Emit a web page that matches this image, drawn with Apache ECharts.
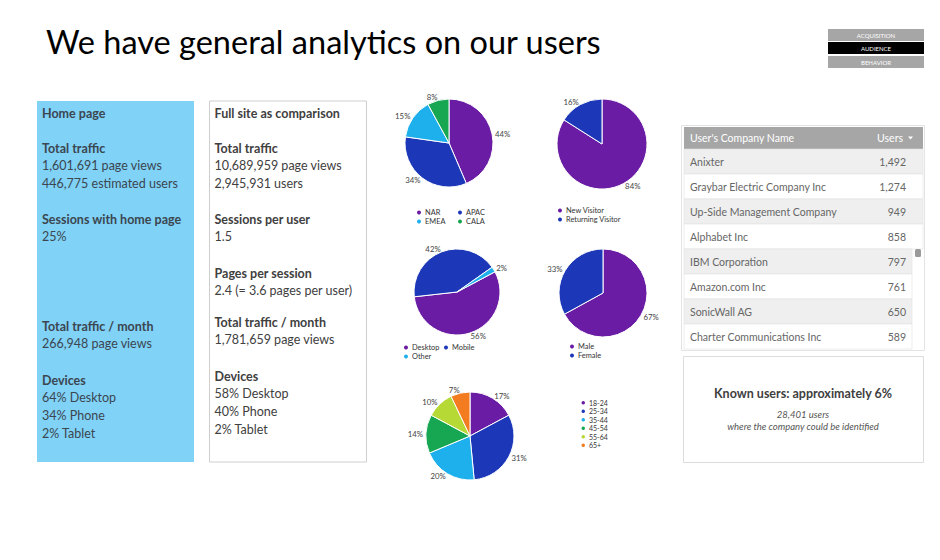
<!DOCTYPE html>
<html><head><meta charset="utf-8">
<script src="https://cdn.jsdelivr.net/npm/echarts@6/dist/echarts.min.js"></script>
<style>html,body{margin:0;padding:0;background:#fff}#c{width:940px;height:560px}</style>
</head><body><div id="c"></div>
<script>
// ---------- data ----------
const slideTitle = 'We have general analytics on our users';
const navItems = ['ACQUISITION', 'AUDIENCE', 'BEHAVIOR'];
const navActive = 'AUDIENCE';

const homeGroups = [
  ['Home page'],
  ['Total traffic', '1,601,691 page views', '446,775 estimated users'],
  ['Sessions with home page', '25%'],
  ['Total traffic / month', '266,948 page views'],
  ['Devices', '64% Desktop', '34% Phone', '2% Tablet']
];
const siteGroups = [
  ['Full site as comparison'],
  ['Total traffic', '10,689,959 page views', '2,945,931 users'],
  ['Sessions per user', '1.5'],
  ['Pages per session', '2.4 (= 3.6 pages per user)'],
  ['Total traffic / month', '1,781,659 page views'],
  ['Devices', '58% Desktop', '40% Phone', '2% Tablet']
];

const regionNames = ['NAR', 'APAC', 'EMEA', 'CALA'];
const regionValues = [44, 34, 15, 8];
const visitorNames = ['New Visitor', 'Returning Visitor'];
const visitorValues = [84, 16];
const deviceNames = ['Desktop', 'Mobile', 'Other'];
const deviceValues = [56, 42, 2];
const genderNames = ['Male', 'Female'];
const genderValues = [67, 33];
const ageNames = ['18-24', '25-34', '35-44', '45-54', '55-64', '65+'];
const ageValues = [17, 31, 20, 14, 10, 7];

const tableHeader = ["User's Company Name", 'Users'];
const companies = ['Anixter', 'Graybar Electric Company Inc', 'Up-Side Management Company', 'Alphabet Inc',
  'IBM Corporation', 'Amazon.com Inc', 'SonicWall AG', 'Charter Communications Inc'];
const companyUsers = [1492, 1274, 949, 858, 797, 761, 650, 589];

const knownTitle = 'Known users: approximately 6%';
const knownLines = ['28,401 users', 'where the company could be identified'];

// ---------- styles / layout ----------
const FONT = 'Lato, "Open Sans", sans-serif';
const PURPLE = '#6a1ca4', BLUE = '#1c38b8', LBLUE = '#1eb0ec', GREEN = '#17a652', LIME = '#b7d935', ORANGE = '#f47c20';
const fmtNum = v => v.toLocaleString('en-US');

const graphics = [];
// title
graphics.push({ type: 'text', left: 46, top: 25, style: { text: slideTitle, font: '32.5px ' + FONT, fill: '#000' } });
// nav buttons
const navY = [29, 42, 56];
navItems.forEach((n, i) => {
  graphics.push({ type: 'rect', shape: { x: 828, y: navY[i], width: 96, height: 12 },
    style: { fill: n === navActive ? '#000' : '#a6a6a6' } });
  graphics.push({ type: 'text', x: 876, y: navY[i] + 6, style: { text: n, font: '6px ' + FONT, fill: '#fff', align: 'center', verticalAlign: 'middle' } });
});
// panels
function panel(x, groups, groupY, fill, stroke, color) {
  graphics.push({ type: 'rect', shape: { x: x, y: 101, width: 157, height: 361 }, style: { fill: fill, stroke: stroke, lineWidth: 1 } });
  groups.forEach((g, gi) => {
    g.forEach((line, li) => {
      graphics.push({ type: 'text', x: x + 5, y: groupY[gi] + li * 17.8,
        style: { text: line, font: (li === 0 ? 'bold ' : '') + '12.5px ' + FONT, fill: color, verticalAlign: 'middle' } });
    });
  });
}
panel(37, homeGroups, [113, 148, 219, 326, 380], '#80d2f7', null, '#3b4650');
panel(209.5, siteGroups, [113, 148, 219, 273, 322, 376], '#fff', '#cfcfcf', '#404040');

// table
graphics.push({ type: 'rect', shape: { x: 681.5, y: 125.5, width: 243, height: 225 }, style: { fill: 'none', stroke: '#e3e3e3', lineWidth: 1 } });
graphics.push({ type: 'rect', shape: { x: 684, y: 127, width: 239, height: 22 }, style: { fill: '#a6a6a6' } });
graphics.push({ type: 'text', x: 690, y: 138, style: { text: tableHeader[0], font: '10.5px ' + FONT, fill: '#fff', verticalAlign: 'middle' } });
graphics.push({ type: 'text', x: 903, y: 138, style: { text: tableHeader[1], font: '10.5px ' + FONT, fill: '#fff', align: 'right', verticalAlign: 'middle' } });
graphics.push({ type: 'polygon', shape: { points: [[908, 136.5], [913, 136.5], [910.5, 139.5]] }, style: { fill: '#fff' } });
companies.forEach((c, i) => {
  const y = 149 + i * 25;
  const w = i < 4 ? 239 : 228;
  graphics.push({ type: 'rect', shape: { x: 684, y: y, width: w, height: 25 }, style: { fill: i % 2 === 0 ? '#efefef' : '#fff', stroke: '#e0e0e0', lineWidth: 0.6 } });
  graphics.push({ type: 'text', x: 690, y: y + 12.5, style: { text: c, font: '10.5px ' + FONT, fill: '#666', verticalAlign: 'middle' } });
  graphics.push({ type: 'text', x: 906, y: y + 12.5, style: { text: fmtNum(companyUsers[i]), font: '10.5px ' + FONT, fill: '#666', align: 'right', verticalAlign: 'middle' } });
});
graphics.push({ type: 'rect', shape: { x: 915, y: 249, width: 6, height: 8, r: 1.5 }, style: { fill: '#9a9a9a' } });
// known users box
graphics.push({ type: 'rect', shape: { x: 683.5, y: 356.5, width: 240, height: 106 }, style: { fill: '#fff', stroke: '#dcdcdc', lineWidth: 1 } });
graphics.push({ type: 'text', x: 803, y: 393, style: { text: knownTitle, font: 'bold 12.5px ' + FONT, fill: '#404040', align: 'center', verticalAlign: 'middle' } });
knownLines.forEach((t, i) => {
  graphics.push({ type: 'text', x: 803, y: 414 + i * 12, style: { text: t, font: 'italic 9.5px ' + FONT, fill: '#555', align: 'center', verticalAlign: 'middle' } });
});

// pies
function pie(names, values, colors, center, radius, startAngle) {
  return {
    type: 'pie', center: center, radius: radius, startAngle: startAngle, clockwise: true,
    avoidLabelOverlap: false, animation: false,
    itemStyle: { borderColor: '#fff', borderWidth: 1 },
    label: { show: true, position: 'outside', formatter: '{c}%', fontSize: 7.8, color: '#444', fontFamily: FONT, distanceToLabelLine: 0 },
    labelLine: { show: false, length: 3, length2: 0 },
    emphasis: { disabled: true },
    data: names.map((n, i) => ({ name: n, value: values[i], itemStyle: { color: colors[i] } }))
  };
}
function legend(data, left, top, gap, size, lh, fs) {
  const s = size || 6;
  return { data: data, orient: 'vertical', left: left, top: top, icon: 'circle', itemWidth: s, itemHeight: s,
    itemGap: gap == null ? 1 : gap, padding: 0, selectedMode: false,
    textStyle: { fontSize: fs || 7.4, lineHeight: lh || 7, color: '#333', fontFamily: FONT, padding: [0, 0, 0, -2] } };
}

const option = {
  animation: false,
  graphic: graphics,
  legend: [
    legend(['NAR', 'EMEA'], 415, 208.5),
    legend(['APAC', 'CALA'], 456, 208.5),
    legend(visitorNames, 556, 206.5),
    legend(['Desktop', 'Other'], 402, 343.5),
    legend(['Mobile'], 442, 343.5),
    legend(genderNames, 568, 342.5),
    legend(ageNames, 579.5, 399, 1, 5.5, 6, 7)
  ],
  series: [
    pie(regionNames, regionValues, [PURPLE, BLUE, LBLUE, GREEN], [449, 143], 44, 90),
    pie(visitorNames, visitorValues, [PURPLE, BLUE], [602, 144], 45, 90),
    pie(deviceNames, deviceValues, [PURPLE, BLUE, LBLUE], [457, 292], 43, 28),
    pie(genderNames, genderValues, [PURPLE, BLUE], [603, 293], 44, 90),
    pie(ageNames, ageValues, [PURPLE, BLUE, LBLUE, GREEN, LIME, ORANGE], [470, 436], 44, 90)
  ]
};
const chart = echarts.init(document.getElementById('c'), null, { renderer: 'svg' });
chart.setOption(option);
</script></body></html>
